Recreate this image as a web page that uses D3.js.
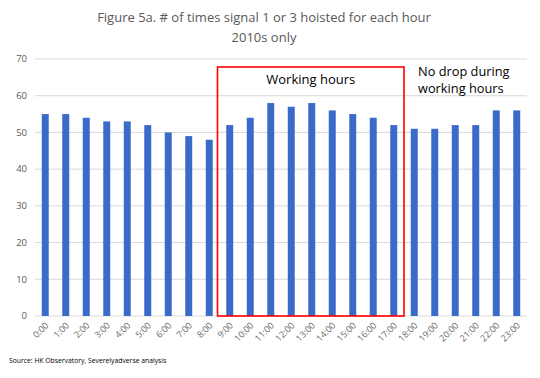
<!DOCTYPE html>
<html>
<head>
<meta charset="utf-8">
<script src="https://d3js.org/d3.v7.min.js"></script>
<style>
body { margin: 0; background: #fff; }
text { font-family: "Open Sans", "Noto Sans", sans-serif; }
</style>
</head>
<body>
<script>
var hours = ["0:00","1:00","2:00","3:00","4:00","5:00","6:00","7:00","8:00","9:00","10:00","11:00",
             "12:00","13:00","14:00","15:00","16:00","17:00","18:00","19:00","20:00","21:00","22:00","23:00"];
var counts = [55,55,54,53,53,52,50,49,48,52,54,58,57,58,56,55,54,52,51,51,52,52,56,56];
var yTicks = [0,10,20,30,40,50,60,70];
var workStart = "9:00", workEnd = "17:00";

var W = 540, H = 378;
var svg = d3.select("body").append("svg").attr("width", W).attr("height", H);

var x = d3.scaleBand().domain(hours).range([35, 527]).paddingInner(0.66).paddingOuter(0.33);
var y = d3.scaleLinear().domain([0, 70]).range([316, 59]);

// gridlines
svg.append("g").selectAll("line").data(yTicks).enter().append("line")
    .attr("x1", 35).attr("x2", 527)
    .attr("y1", function(d) { return y(d); }).attr("y2", function(d) { return y(d); })
    .attr("stroke", "#d9d9d9").attr("stroke-width", 1);

// y tick labels
svg.append("g").selectAll("text").data(yTicks).enter().append("text")
    .attr("x", 27).attr("y", function(d) { return y(d); })
    .attr("dy", "0.35em").attr("text-anchor", "end")
    .attr("font-size", 9.5).attr("fill", "#595959")
    .text(function(d) { return d; });

// bars
svg.append("g").selectAll("rect").data(counts).enter().append("rect")
    .attr("x", function(d, i) { return x(hours[i]); })
    .attr("y", function(d) { return y(d); })
    .attr("width", x.bandwidth())
    .attr("height", function(d) { return y(0) - y(d); })
    .attr("fill", "#3a6bc8");

// x labels
svg.append("g").selectAll("text").data(hours).enter().append("text")
    .attr("transform", function(d) {
        return "translate(" + (x(d) + x.bandwidth() / 2 + 4) + ",326) rotate(-45)";
    })
    .attr("text-anchor", "end").attr("font-size", 9).attr("fill", "#6a6a6a")
    .text(function(d) { return d; });

// working hours box
var step = x.step();
var bx0 = x(workStart) + x.bandwidth() / 2 - step / 2 - 2;
var bx1 = x(workEnd) + x.bandwidth() / 2 + step / 2;
svg.append("rect")
    .attr("x", bx0).attr("y", 67)
    .attr("width", bx1 - bx0).attr("height", y(0) - 67)
    .attr("fill", "none").attr("stroke", "#ff0000").attr("stroke-width", 1.6);

svg.append("text").attr("x", (bx0 + bx1) / 2).attr("y", 84)
    .attr("text-anchor", "middle").attr("font-size", 13).attr("fill", "#000")
    .text("Working hours");

svg.append("text").attr("x", 418).attr("y", 76)
    .attr("font-size", 12.8).attr("fill", "#000")
    .text("No drop during");
svg.append("text").attr("x", 418).attr("y", 93)
    .attr("font-size", 12.8).attr("fill", "#000")
    .text("working hours");

// title
svg.append("text").attr("x", 264).attr("y", 22)
    .attr("text-anchor", "middle").attr("font-size", 13).attr("fill", "#595959")
    .text("Figure 5a. # of times signal 1 or 3 hoisted for each hour");
svg.append("text").attr("x", 264).attr("y", 42)
    .attr("text-anchor", "middle").attr("font-size", 13).attr("fill", "#595959")
    .text("2010s only");

// source
svg.append("text").attr("x", 9).attr("y", 363)
    .attr("font-size", 6.8).attr("fill", "#000")
    .text("Source: HK Observatory, Severelyadverse analysis");
</script>
</body>
</html>
